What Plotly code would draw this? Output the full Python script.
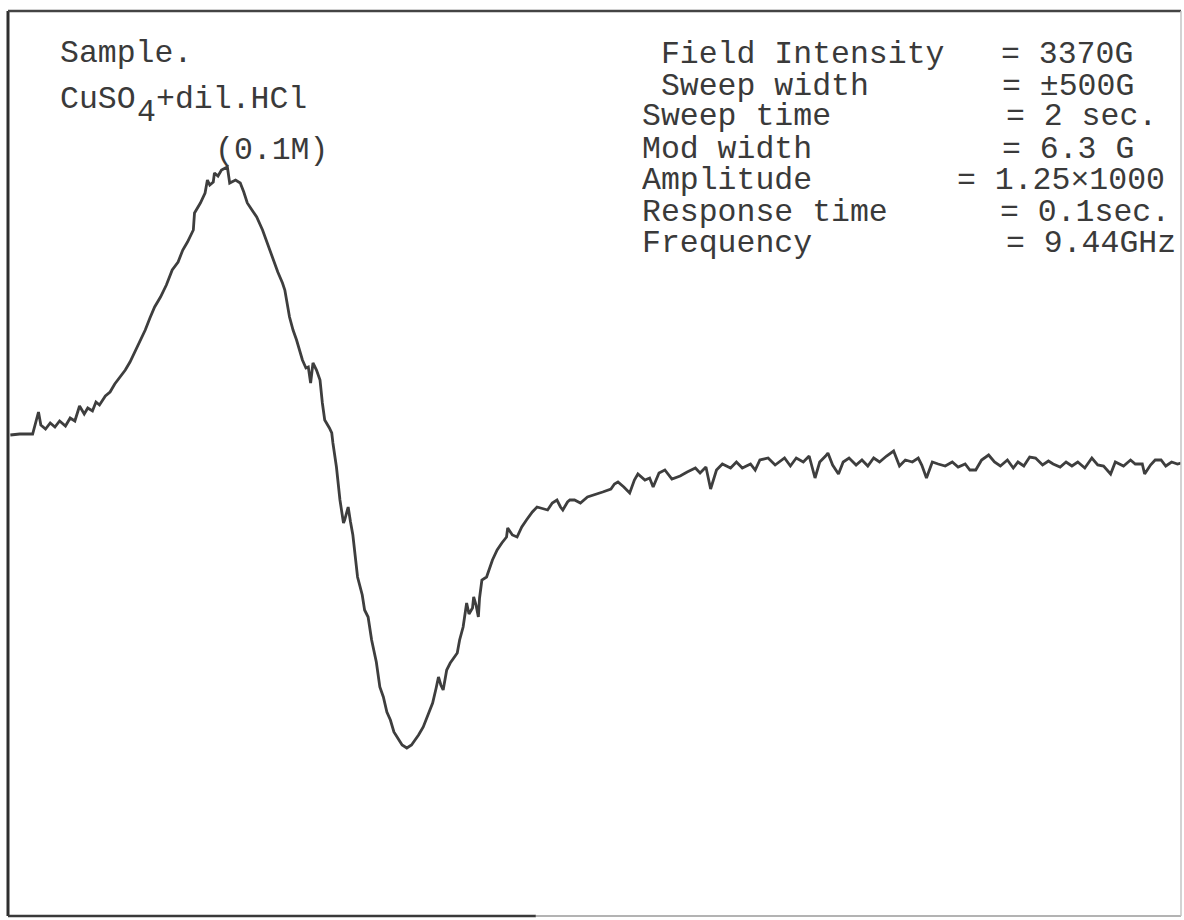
import plotly.graph_objects as go

# ESR spectrum of CuSO4 + dil. HCl (0.1M): magnetic field (G) vs derivative signal (a.u.)
field_G = [
    2872, 2880, 2891, 2894, 2896, 2898, 2902, 2906, 2910, 2914, 2919, 2923, 2927, 2931,
    2935, 2938, 2942, 2945, 2948, 2953, 2957, 2961, 2965, 2970, 2974, 2978, 2983, 2987,
    2991, 2995, 3000, 3005, 3010, 3015, 3019, 3023, 3028, 3029, 3034, 3038, 3040, 3042,
    3045, 3046, 3049, 3052, 3057, 3058, 3059, 3064, 3068, 3071, 3074, 3078, 3082, 3087,
    3091, 3093, 3096, 3100, 3104, 3106, 3110, 3113, 3116, 3121, 3124, 3126, 3128, 3130,
    3133, 3136, 3138, 3140, 3144, 3146, 3147, 3150, 3153, 3156, 3157, 3160, 3162, 3164,
    3168, 3172, 3174, 3177, 3180, 3184, 3187, 3190, 3193, 3196, 3199, 3203, 3206, 3210,
    3214, 3217, 3220, 3224, 3228, 3232, 3235, 3237, 3239, 3241, 3244, 3247, 3253, 3255,
    3258, 3261, 3263, 3266, 3267, 3269, 3271, 3272, 3274, 3278, 3283, 3287, 3291, 3295,
    3296, 3300, 3304, 3308, 3312, 3317, 3321, 3325, 3330, 3334, 3338, 3341, 3343, 3347,
    3349, 3353, 3358, 3364, 3370, 3377, 3384, 3387, 3390, 3395, 3400, 3404, 3407, 3413,
    3417, 3420, 3425, 3430, 3436, 3443, 3449, 3456, 3460, 3465, 3469, 3474, 3479, 3486,
    3491, 3496, 3503, 3507, 3511, 3518, 3524, 3532, 3537, 3542, 3548, 3553, 3558, 3562,
    3567, 3569, 3573, 3578, 3582, 3587, 3593, 3598, 3603, 3608, 3613, 3619, 3625, 3630,
    3635, 3641, 3646, 3649, 3653, 3658, 3663, 3669, 3675, 3680, 3686, 3690, 3695, 3700,
    3706, 3711, 3716, 3722, 3727, 3731, 3736, 3741, 3746, 3752, 3757, 3761, 3767, 3772,
    3777, 3782, 3788, 3794, 3799, 3804, 3810, 3814, 3821, 3827, 3831, 3837, 3839, 3844,
    3848, 3853, 3857, 3862, 3867, 3870,
]
signal_au = [
    25, 26, 26, 38, 48, 35, 31, 37, 33, 39, 34, 42, 39, 54,
    46, 52, 49, 58, 55, 64, 68, 76, 82, 90, 98, 108, 120, 130,
    142, 153, 163, 175, 190, 198, 210, 218, 230, 247, 257, 267, 280, 275,
    278, 287, 284, 290, 293, 285, 277, 280, 277, 268, 257, 250, 243, 230,
    217, 210, 200, 188, 177, 170, 143, 130, 120, 100, 92, 93, 77, 97,
    90, 80, 57, 40, 32, 27, 17, -7, -40, -63, -60, -47, -62, -75,
    -117, -135, -150, -157, -180, -202, -227, -237, -252, -260, -272, -280, -285, -288,
    -285, -280, -275, -267, -255, -243, -228, -217, -225, -230, -210, -203, -193, -180,
    -167, -143, -154, -148, -137, -145, -157, -138, -120, -117, -100, -90, -83, -77,
    -68, -75, -77, -67, -60, -52, -47, -48, -50, -43, -40, -47, -50, -42,
    -40, -40, -43, -37, -35, -32, -29, -24, -22, -27, -33, -20, -14, -20,
    -18, -27, -13, -10, -19, -16, -12, -8, -13, -7, -29, -10, -4, -8,
    -2, -8, -4, -10, 0, 2, -5, 2, -6, 2, -2, 4, -18, -2,
    4, 7, -5, -14, -2, 2, -5, 0, -6, 2, -2, 4, 9, -6,
    0, -2, 2, -5, -18, -2, -4, -6, -2, -7, -4, -10, -10, 0,
    5, -2, -6, 0, -8, -2, -6, 3, 2, -5, -1, -4, -7, -2,
    -6, -2, -8, 2, -5, -6, -14, -2, -6, 0, -4, -4, -14, -5,
    0, 0, -6, -2, -4, -3,
]

param_names = [" Field Intensity", " Sweep width", "Sweep time", "Mod width",
               "Amplitude", "Response time", "Frequency"]
param_values = ["= 3370G", "= ±500G", "= 2 sec.", "= 6.3 G",
                "= 1.25×1000", "= 0.1sec.", "= 9.44GHz"]

FONT = "Liberation Mono, Courier New, monospace"
INK = "#3a3a3a"
FS = 31.5            # typewriter-style monospace size
PITCH = 0.6 * FS     # monospace character advance
ROW_H = 31           # typed line pitch

fig = go.Figure()
fig.add_trace(go.Scatter(
    x=field_G, y=signal_au, mode="lines",
    line=dict(color="#3e3e3e", width=2.8),
    hoverinfo="skip", showlegend=False,
))

W, H = 1184, 920
L, R, T, B = 8, 3, 11, 4
pw, ph = W - L - R, H - T - B


def px(xp):
    return (xp - L) / pw


def py(yp):
    return (H - B - yp) / ph


def label(text, xp, yp):
    return dict(
        text=text.replace(" ", "&nbsp;"), xref="paper", yref="paper",
        x=px(xp), y=py(yp), xanchor="left", yanchor="middle", showarrow=False,
        height=ROW_H, borderpad=0, borderwidth=0, valign="middle",
        font=dict(family=FONT, size=FS, color=INK),
    )


annotations = [
    label("Sample.", 60, 53),
    # typewriter formula: the "4" is a full-size digit dropped below the line
    label("CuSO", 60, 100),
    label("4", 60 + 4 * PITCH + 1, 113),
    label("+dil.HCl", 60 + 5 * PITCH + 1, 100),
    label("(0.1M)", 215, 150),
]

# instrument settings, top right
row_y = [55, 86, 117, 149, 181, 212, 244]
value_x = [1001, 1002, 1006, 1002, 957, 1000, 1006]
for name, val, yp, vx in zip(param_names, param_values, row_y, value_x):
    annotations.append(label(name, 642, yp))
    annotations.append(label(val, vx, yp))

# chart-paper frame
shapes = [
    dict(type="line", xref="paper", yref="paper", x0=0, x1=0, y0=0, y1=1,
         line=dict(color="#2e2e2e", width=3)),
    dict(type="line", xref="paper", yref="paper", x0=0, x1=1, y0=1, y1=1,
         line=dict(color="#444444", width=2.5)),
    dict(type="line", xref="paper", yref="paper", x0=0, x1=0.45, y0=0, y1=0,
         line=dict(color="#3a3a3a", width=2.5)),
    dict(type="line", xref="paper", yref="paper", x0=0.45, x1=1, y0=0, y1=0,
         line=dict(color="#9a9a9a", width=1.5)),
    dict(type="line", xref="paper", yref="paper", x0=1, x1=1, y0=0, y1=1,
         line=dict(color="#c4c4c4", width=1.5)),
]

fig.update_layout(
    width=W, height=H,
    margin=dict(l=L, r=R, t=T, b=B, pad=0),
    paper_bgcolor="white", plot_bgcolor="white",
    xaxis=dict(range=[2870, 3870], showgrid=False, zeroline=False,
               showticklabels=False, ticks="", showline=False),
    yaxis=dict(range=[-456, 449], showgrid=False, zeroline=False,
               showticklabels=False, ticks="", showline=False),
    annotations=annotations,
    shapes=shapes,
)

fig.write_html("out.html")
